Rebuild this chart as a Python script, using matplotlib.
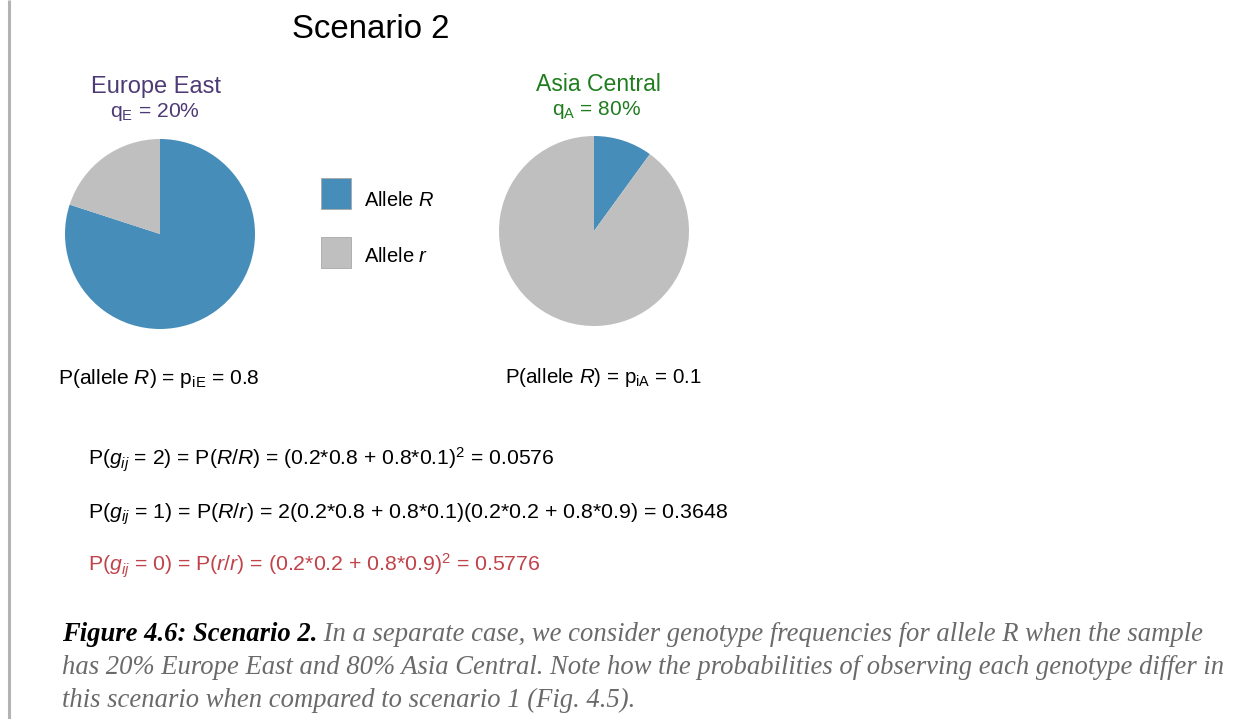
import matplotlib
matplotlib.use('Agg')
import matplotlib.pyplot as plt
from matplotlib.patches import Rectangle

# ---------------- data ----------------
title = "Scenario 2"
regions = ["Europe East", "Asia Central"]
q_labels = ["q$_{\\rm E}$ = 20%", "q$_{\\rm A}$ = 80%"]
allele_R_freq = [0.8, 0.1]
allele_r_freq = [0.2, 0.9]
legend_labels = ["Allele $R$", "Allele $r$"]
p_labels = ["P(allele $R$) = p$_{\\rm iE}$ = 0.8",
            "P(allele $R$) = p$_{\\rm iA}$ = 0.1"]
equations = [
    "P($g_{ij}$ = 2) = P($R/R$) = (0.2*0.8 + 0.8*0.1)$^{2}$ = 0.0576",
    "P($g_{ij}$ = 1) = P($R/r$) = 2(0.2*0.8 + 0.8*0.1)(0.2*0.2 + 0.8*0.9) = 0.3648",
    "P($g_{ij}$ = 0) = P($r/r$) = (0.2*0.2 + 0.8*0.9)$^{2}$ = 0.5776",
]
caption_bold = "Figure 4.6: Scenario 2."
caption_lines = [
    " In a separate case, we consider genotype frequencies for allele R when the sample",
    "has 20% Europe East and 80% Asia Central. Note how the probabilities of observing each genotype differ in",
    "this scenario when compared to scenario 1 (Fig. 4.5).",
]

# ---------------- style ----------------
BLUE = "#478DBA"
GREY = "#BFBFBF"
PURPLE = "#4E3B76"
GREEN = "#1F7D1F"
RED = "#C0434A"
CAPGREY = "#6A6A6A"

plt.rcParams['font.family'] = ['Liberation Sans', 'DejaVu Sans']
plt.rcParams['mathtext.fontset'] = 'custom'
plt.rcParams['mathtext.rm'] = 'Liberation Sans'
plt.rcParams['mathtext.it'] = 'Liberation Sans:italic'
plt.rcParams['mathtext.bf'] = 'Liberation Sans:bold'

W, H = 1235, 719
fig = plt.figure(figsize=(W / 100, H / 100), dpi=100)
ax = fig.add_axes([0, 0, 1, 1])
ax.set_xlim(0, W)
ax.set_ylim(0, H)
ax.set_aspect('equal')
ax.axis('off')

renderer = fig.canvas.get_renderer()


def fit(x, yb, s, width, size0=16, **kw):
    t = ax.text(x, H - yb, s, fontsize=size0, va='baseline', ha='left', **kw)
    bb = t.get_window_extent(renderer)
    t.set_fontsize(size0 * width / bb.width)
    return t


# left rule
ax.plot([9, 9], [0, H], color='#B3B3B3', lw=2.2, solid_capstyle='butt')

# title
fit(292, 38, title, 158, color='black')

# pies
centers = [(160, 234), (594, 231)]
for (cx, cy), pR, pr in zip(centers, allele_R_freq, allele_r_freq):
    ax.pie([pR, pr], colors=[BLUE, GREY], startangle=90, counterclock=False,
           center=(cx, H - cy), radius=95, frame=True,
           wedgeprops=dict(linewidth=0))
ax.set_xlim(0, W)
ax.set_ylim(0, H)
ax.axis('off')

# region headers
fit(91, 93, regions[0], 130, color=PURPLE)
fit(110, 117, q_labels[0], 90, color=PURPLE)
fit(536, 91, regions[1], 126, color=GREEN)
fit(552, 115, q_labels[1], 89, color=GREEN)

# legend
for (y0, col, lab, w, yb) in [(178, BLUE, legend_labels[0], 70, 206),
                              (237, GREY, legend_labels[1], 64, 262)]:
    ax.add_patch(Rectangle((321, H - y0 - 31), 30, 31, facecolor=col,
                           edgecolor='#A8A8A8', lw=0.6))
    fit(364, yb, lab, w, color='black')

# p labels
fit(58, 384, p_labels[0], 202, color='black')
fit(505, 383, p_labels[1], 197, color='black')

# equations
fit(88, 466, equations[0], 467, color='black')
fit(88, 519, equations[1], 641, color='black')
fit(88, 572, equations[2], 452, color=RED)

# caption
cap_font = ['Liberation Serif', 'DejaVu Serif']
size0 = 16
t2 = ax.text(62, H - 674, caption_lines[1], fontsize=size0, family=cap_font,
             style='italic', color=CAPGREY, va='baseline')
fs = size0 * (1222 - 62) / t2.get_window_extent(renderer).width
t2.set_fontsize(fs)
tb = ax.text(62, H - 641, caption_bold, fontsize=fs, family=cap_font,
             style='italic', weight='bold', color='black', va='baseline')
wb = tb.get_window_extent(renderer).width
ax.text(62 + wb, H - 641, caption_lines[0], fontsize=fs, family=cap_font,
        style='italic', color=CAPGREY, va='baseline')
ax.text(62, H - 707, caption_lines[2], fontsize=fs, family=cap_font,
        style='italic', color=CAPGREY, va='baseline')

fig.savefig('out.png', dpi=100)
